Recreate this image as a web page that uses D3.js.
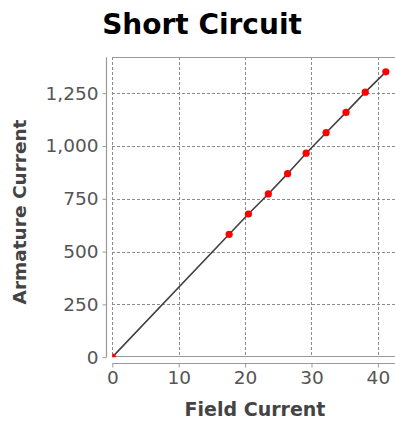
<!DOCTYPE html>
<html>
<head>
<meta charset="utf-8">
<script src="https://cdn.jsdelivr.net/npm/d3@7"></script>
<style>
  html, body { margin: 0; padding: 0; background: #fff; }
  svg { display: block; }
</style>
</head>
<body>
<svg id="chart" width="395" height="422"></svg>
<script>
// Short-circuit test: armature current vs. field current
const fieldCurrent    = [0, 17.6, 20.5, 23.5, 26.4, 29.2, 32.2, 35.2, 38.1, 41.2];
const armatureCurrent = [0, 582, 678, 773, 869, 966, 1063, 1159, 1255, 1351];
const xTicks = [0, 10, 20, 30, 40];
const yTicks = [0, 250, 500, 750, 1000, 1250];

const title = "Short Circuit";
const xLabel = "Field Current";
const yLabel = "Armature Current";

const svg = d3.select("#chart");
const plot = { left: 112.3, top: 57.3, right: 395, bottom: 357.2 };

const x = d3.scaleLinear().domain([0, 42.58]).range([plot.left, plot.right]);
const y = d3.scaleLinear().domain([0, 1420]).range([plot.bottom, plot.top]);

const gridColor = "#8c8c8c";
const axisColor = "#9a9a9a";
const textColor = "#555";
const font = "DejaVu Sans, sans-serif";

// Title
svg.append("text")
  .attr("x", 202).attr("y", 34)
  .attr("text-anchor", "middle")
  .attr("font-family", font).attr("font-weight", "bold")
  .attr("font-size", 28).attr("fill", "#000")
  .text(title);

// Plot background and grid
svg.append("rect")
  .attr("x", plot.left).attr("y", plot.top)
  .attr("width", plot.right - plot.left).attr("height", plot.bottom - plot.top)
  .attr("fill", "#fff");

const grid = svg.append("g").attr("stroke", gridColor).attr("stroke-width", 1)
  .attr("stroke-dasharray", "3,2").attr("shape-rendering", "crispEdges");
grid.selectAll("line.v").data(xTicks).join("line")
  .attr("x1", d => Math.round(x(d)) + 0.5).attr("x2", d => Math.round(x(d)) + 0.5)
  .attr("y1", plot.top).attr("y2", plot.bottom);
grid.selectAll("line.h").data(yTicks.filter(d => d > 0)).join("line")
  .attr("x1", plot.left).attr("x2", plot.right)
  .attr("y1", d => Math.round(y(d)) + 0.5).attr("y2", d => Math.round(y(d)) + 0.5);

// Plot outline
const outline = svg.append("g").attr("stroke", axisColor).attr("stroke-width", 1)
  .attr("shape-rendering", "crispEdges");
outline.append("line").attr("x1", plot.left).attr("x2", plot.right)
  .attr("y1", 57.5).attr("y2", 57.5);
outline.append("line").attr("x1", plot.left).attr("x2", plot.right)
  .attr("y1", 356.5).attr("y2", 356.5);

// Axes, offset from the plot area
const yAxis = d3.axisLeft(y).tickValues(yTicks).tickSize(4).tickPadding(4)
  .tickFormat(d3.format(",")).tickSizeOuter(0);
const yg = svg.append("g").attr("transform", "translate(106.5,0)").call(yAxis);

const xAxis = d3.axisBottom(x).tickValues(xTicks).tickSize(4).tickPadding(3)
  .tickFormat(d3.format("d")).tickSizeOuter(0);
const xg = svg.append("g").attr("transform", "translate(0,363.5)").call(xAxis);

[yg, xg].forEach(g => {
  g.select(".domain").attr("stroke", axisColor).attr("stroke-width", 1.2);
  g.selectAll(".tick line").attr("stroke", axisColor);
  g.selectAll(".tick text").attr("font-family", font).attr("font-size", 18.5)
    .attr("fill", textColor);
});
yg.select(".domain").attr("d", `M0,${plot.top}V${plot.bottom}`);
xg.select(".domain").attr("d", `M${plot.left},0H${plot.right}`);

// Axis titles
svg.append("text")
  .attr("x", 255).attr("y", 416)
  .attr("text-anchor", "middle")
  .attr("font-family", font).attr("font-weight", "bold")
  .attr("font-size", 19).attr("fill", "#444")
  .text(xLabel);
svg.append("text")
  .attr("transform", "translate(26,212) rotate(-90)")
  .attr("text-anchor", "middle")
  .attr("font-family", font).attr("font-weight", "bold")
  .attr("font-size", 18.5).attr("fill", "#444")
  .text(yLabel);

// Series
const pts = fieldCurrent.map((f, i) => ({ f, a: armatureCurrent[i] }));
svg.append("clipPath").attr("id", "plotClip").append("rect")
  .attr("x", plot.left).attr("y", plot.top)
  .attr("width", plot.right - plot.left).attr("height", plot.bottom - plot.top);
const series = svg.append("g").attr("clip-path", "url(#plotClip)");

series.append("path").datum(pts)
  .attr("fill", "none").attr("stroke", "#404040").attr("stroke-width", 1.6)
  .attr("d", d3.line().x(d => x(d.f)).y(d => y(d.a)));

series.selectAll("circle").data(pts).join("circle")
  .attr("cx", d => x(d.f)).attr("cy", d => y(d.a))
  .attr("r", 3.6).attr("fill", "#ff0000");
</script>
</body>
</html>
